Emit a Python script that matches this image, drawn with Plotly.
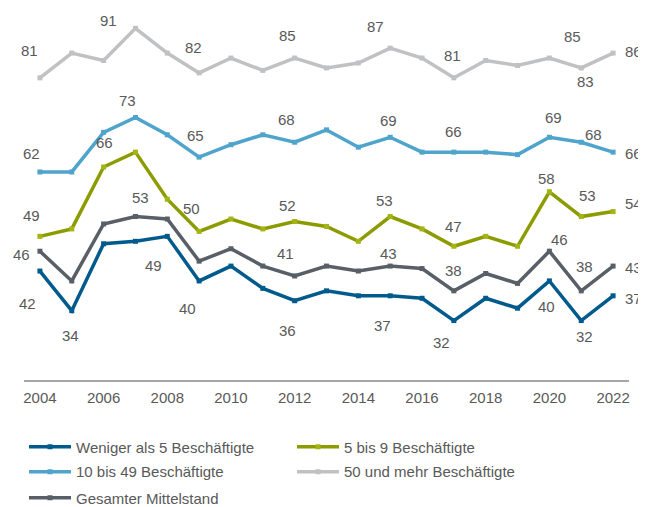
import plotly.graph_objects as go

years = list(range(2004, 2023))

weniger_5 = [42, 34, 47.5, 48, 49, 40, 43, 38.5, 36, 38, 37, 37, 36.5, 32, 36.5, 34.5, 40, 32, 37]
bis_9 = [49, 50.5, 63, 66, 56.5, 50, 52.5, 50.5, 52, 51, 48, 53, 50.5, 47, 49, 47, 58, 53, 54]
bis_49 = [62, 62, 70, 73, 69.5, 65, 67.5, 69.5, 68, 70.5, 67, 69, 66, 66, 66, 65.5, 69, 68, 66]
mehr_50 = [81, 86, 84.5, 91, 86, 82, 85, 82.5, 85, 83, 84, 87, 85, 81, 84.5, 83.5, 85, 83, 86]
gesamt = [46, 40, 51.5, 53, 52.5, 44, 46.5, 43, 41, 43, 42, 43, 42.5, 38, 41.5, 39.5, 46, 38, 43]

series_names = ["Weniger als 5 Beschäftigte", "5 bis 9 Beschäftigte", "10 bis 49 Beschäftigte",
                "50 und mehr Beschäftigte", "Gesamter Mittelstand"]
series_values = [weniger_5, bis_9, bis_49, mehr_50, gesamt]

# years whose points carry a data label
labelled_years = {
    "Weniger als 5 Beschäftigte": [2004, 2005, 2008, 2009, 2012, 2015, 2017, 2020, 2021, 2022],
    "5 bis 9 Beschäftigte": [2004, 2007, 2009, 2012, 2015, 2017, 2020, 2021, 2022],
    "10 bis 49 Beschäftigte": [2004, 2007, 2009, 2012, 2015, 2017, 2020, 2021, 2022],
    "50 und mehr Beschäftigte": [2004, 2007, 2009, 2012, 2015, 2017, 2020, 2021, 2022],
    "Gesamter Mittelstand": [2004, 2007, 2012, 2015, 2017, 2020, 2021, 2022],
}

# styling: label offsets in pixels (xshift, yshift)
label_offsets = {
    "Weniger als 5 Beschäftigte": [(-12, -32), (-1, -25), (-14, -29), (-12, -28), (-7, -30), (-8, -30),
                                   (-12, -22), (-3, -26), (3, -16), (20, -3)],
    "5 bis 9 Beschäftigte": [(-8, 21), (-31, 10), (-8, 23), (-7, 16), (-6, 16), (0, 20), (-3, 13),
                             (6, 21), (20, 8)],
    "10 bis 49 Beschäftigte": [(-8, 18), (-8, 17), (-4, 22), (-8, 23), (-2, 17), (0, 21), (4, 20),
                               (12, 8), (20, -1)],
    "50 und mehr Beschäftigte": [(-10, 27), (-27, 8), (-6, 25), (-7, 23), (-15, 22), (-1, 22),
                                 (23, 22), (4, -14), (20, 2)],
    "Gesamter Mittelstand": [(-18, -3), (5, 19), (-9, 22), (-2, 13), (0, 20), (10, 12), (3, 24), (20, -1)],
}

line_colors = ["#005b8c", "#8c9c00", "#4fa4cc", "#c0c1c3", "#595f66"]
marker_colors = ["#005b8c", "#a4b414", "#4fa4cc", "#c0c1c3", "#595f66"]
legend_ids = ["legend", "legend", "legend2", "legend2", "legend3"]
text_color = "#595959"
font_family = "Arial, Liberation Sans, sans-serif"

fig = go.Figure()
annotations = []
for name, vals, lc, mc, lg in zip(series_names, series_values, line_colors, marker_colors, legend_ids):
    fig.add_trace(go.Scatter(
        x=years, y=vals, name=name, mode="lines+markers",
        line=dict(color=lc, width=3.5),
        marker=dict(symbol="square", size=5, color=mc),
        legend=lg,
    ))
    for yr, (dx, dy) in zip(labelled_years[name], label_offsets[name]):
        v = vals[years.index(yr)]
        annotations.append(dict(
            x=yr, y=v, xref="x", yref="y", text=f"{v:g}", showarrow=False,
            xshift=dx, yshift=dy, font=dict(size=15, color=text_color, family=font_family),
        ))

leg_common = dict(
    orientation="h", xanchor="left", yanchor="middle",
    entrywidth=211, entrywidthmode="pixels", itemwidth=42,
    font=dict(size=15, color=text_color, family=font_family),
    bgcolor="rgba(0,0,0,0)",
)
lx = (16 - 16) / 605

fig.update_layout(
    width=646, height=507,
    margin=dict(l=16, r=25, t=0, b=135),
    paper_bgcolor="white", plot_bgcolor="white",
    font=dict(family=font_family, size=15, color=text_color),
    annotations=annotations,
    showlegend=True,
    legend=dict(x=lx, y=-0.180, **leg_common),
    legend2=dict(x=lx, y=-0.247, **leg_common),
    legend3=dict(x=lx, y=-0.317, **leg_common),
    xaxis=dict(
        range=[2003.5, 2022.5], tickvals=list(range(2004, 2023, 2)),
        showline=True, linecolor="#a6a6a6", linewidth=1.5,
        showgrid=False, zeroline=False, ticks="",
        tickfont=dict(size=15, color=text_color, family=font_family),
        ticklabelstandoff=3,
    ),
    yaxis=dict(range=[20, 95.1], visible=False, showgrid=False, zeroline=False),
)

fig.write_html("out.html")
